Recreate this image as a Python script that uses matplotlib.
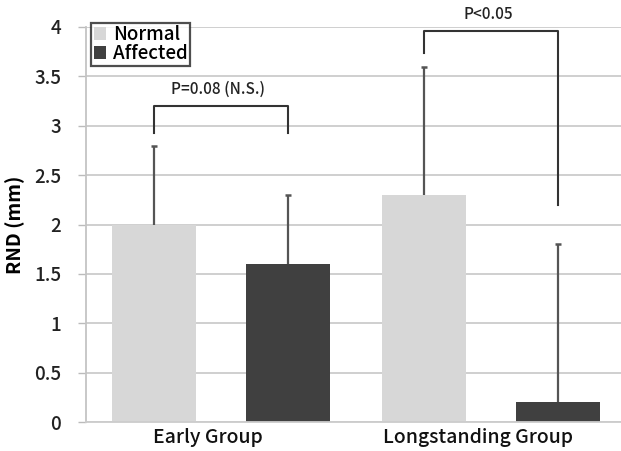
import matplotlib
matplotlib.use("Agg")
import matplotlib.pyplot as plt
import numpy as np

categories = ["Early Group", "Longstanding Group"]
series_names = ["Normal", "Affected"]
normal_means = [2.0, 2.3]
normal_sd = [0.8, 1.3]
affected_means = [1.6, 0.2]
affected_sd = [0.7, 1.6]
yticks = [0, 0.5, 1, 1.5, 2, 2.5, 3, 3.5, 4]
ytick_labels = ["0", "0.5", "1", "1.5", "2", "2.5", "3", "3.5", "4"]
sig_labels = ["P=0.08 (N.S.)", "P<0.05"]

plt.rcParams['font.family'] = ['Noto Sans CJK JP', 'DejaVu Sans']

fig = plt.figure(figsize=(6.21, 4.51), dpi=100)
ax = fig.add_axes([86/621, 29/451, 1 - 86/621, (422-27)/451])

x = np.arange(len(categories))
off = 0.248
w = 0.31
c_norm = "#d7d7d7"
c_aff = "#404040"
ecol = "#555555"

ax.bar(x - off, normal_means, w, color=c_norm, label=series_names[0], zorder=2)
ax.bar(x + off, affected_means, w, color=c_aff, label=series_names[1], zorder=2)

# upper-only error bars
for xs, m, s in [(x - off, normal_means, normal_sd), (x + off, affected_means, affected_sd)]:
    top = np.array(m) + np.array(s)
    ax.vlines(xs, m, top, color=ecol, lw=1.6, zorder=3)
    ax.plot(xs, top, ls="none", marker="_", ms=5, mew=1.8, color=ecol, zorder=3)

# significance brackets
bracket_bottom_left = [2.93, 3.74]
bracket_bottom_right = [2.93, 2.2]
bracket_top = [3.2, 3.96]
text_y = [3.28, 4.04]
for i in range(2):
    xl, xr = x[i] - off, x[i] + off
    ax.plot([xl, xl, xr, xr], [bracket_bottom_left[i], bracket_top[i], bracket_top[i], bracket_bottom_right[i]],
            color="#333333", lw=1.5, clip_on=False, zorder=4)
    ax.text((xl + xr) / 2 - 0.01, text_y[i], sig_labels[i], ha="center", va="bottom",
            fontsize=11, fontweight="medium", color="#222222", clip_on=False)

ax.set_xlim(-0.5, 1.48)
ax.set_ylim(0, 4)
ax.set_yticks(yticks)
ax.set_yticklabels(ytick_labels, fontsize=13.5, fontweight="medium", color="#222222")
ax.set_xticks(x - 0.05)
ax.set_xticklabels(categories, fontsize=14, fontweight="medium", color="#111111")
ax.tick_params(axis="x", length=0, pad=4)
ax.tick_params(axis="y", length=6, width=1, color="#bbbbbb", pad=12)
ax.grid(axis="y", color="#cccccc", lw=1.3, zorder=0)
ax.set_axisbelow(True)
for s in ["top", "right"]:
    ax.spines[s].set_visible(False)
ax.spines["left"].set_color("#c4c4c4")
ax.spines["left"].set_linewidth(1.3)
ax.spines["bottom"].set_color("#cccccc")
ax.spines["bottom"].set_linewidth(1.3)

ax.set_ylabel("RND (mm)", fontsize=14, fontweight="bold", labelpad=6)

leg = ax.legend(loc="upper left", bbox_to_anchor=(0.01, 1.01), fontsize=13.5,
                prop={"size": 13.5, "weight": "medium"},
                frameon=True, fancybox=False, edgecolor="#222222",
                handlelength=0.65, handleheight=0.65, handletextpad=0.4,
                borderpad=0.12, labelspacing=0.0, borderaxespad=0)
leg.get_frame().set_linewidth(1.6)

fig.savefig("out.png", dpi=100)
